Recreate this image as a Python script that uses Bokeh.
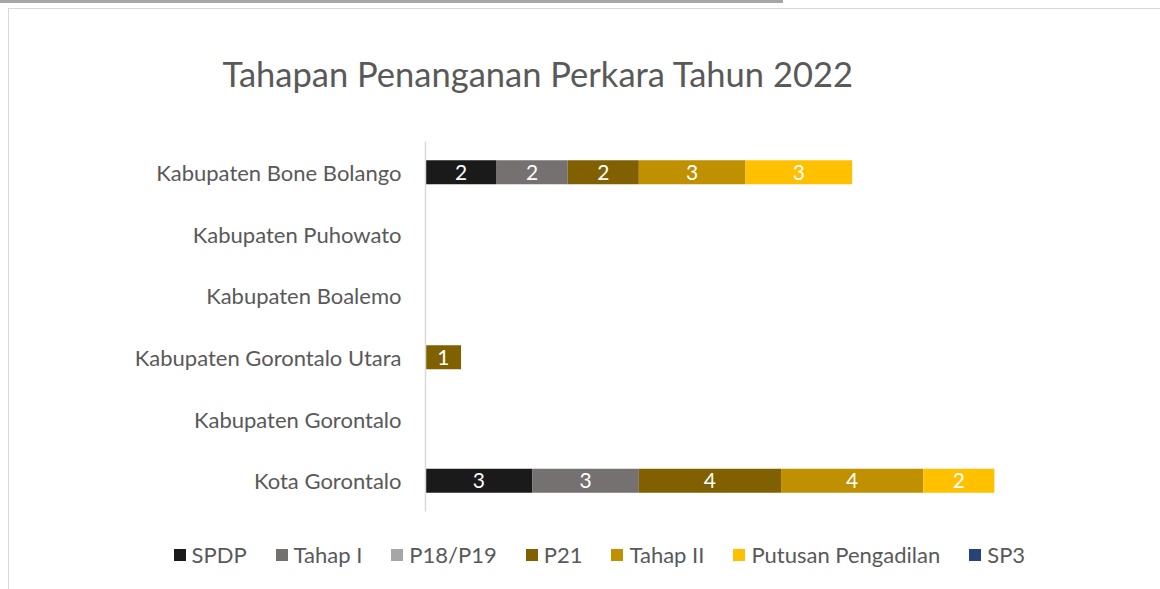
from bokeh.plotting import figure
from bokeh.models import ColumnDataSource, FactorRange, Legend, LegendItem, Range1d, Title
from bokeh.layouts import column
from bokeh.embed import file_html
from bokeh.resources import INLINE
from bokeh.core.properties import value

# categories listed top to bottom
categories = ["Kabupaten Bone Bolango", "Kabupaten Puhowato", "Kabupaten Boalemo",
              "Kabupaten Gorontalo Utara", "Kabupaten Gorontalo", "Kota Gorontalo"]
series_names = ["SPDP", "Tahap I", "P18/P19", "P21", "Tahap II", "Putusan Pengadilan", "SP3"]
spdp = [2, 0, 0, 0, 0, 3]
tahap_1 = [2, 0, 0, 0, 0, 3]
p18_p19 = [0, 0, 0, 0, 0, 0]
p21 = [2, 0, 0, 1, 0, 4]
tahap_2 = [3, 0, 0, 0, 0, 4]
putusan = [3, 0, 0, 0, 0, 2]
sp3 = [0, 0, 0, 0, 0, 0]
colors = ["#1a1a1a", "#767171", "#a6a6a6", "#806000", "#bf9000", "#ffc000", "#264478"]
title_text = "Tahapan Penanganan Perkara Tahun 2022"

FONT = "Lato"
TXT = "#595959"

all_series = [spdp, tahap_1, p18_p19, p21, tahap_2, putusan, sp3]
keys = ["s%d" % i for i in range(len(all_series))]
data = {"cat": categories}
for k, s in zip(keys, all_series):
    data[k] = s
src = ColumnDataSource(data)

bg = ("linear-gradient(#a6a6a6,#a6a6a6) 0px 0px / 783px 3px no-repeat, "
      "linear-gradient(#d9d9d9,#d9d9d9) 8px 8px / 1152px 1px no-repeat, "
      "linear-gradient(#d9d9d9,#d9d9d9) 8px 8px / 1px 581px no-repeat, #ffffff")

p = figure(width=1160, height=530, output_backend="svg", toolbar_location=None,
           y_range=FactorRange(*list(reversed(categories))), x_range=Range1d(0, 18),
           min_border_left=425, min_border_right=95, min_border_top=141, min_border_bottom=19)
p.background_fill_alpha = 0
p.border_fill_alpha = 0
p.outline_line_color = None
p.xaxis.visible = False
p.xgrid.visible = False
p.ygrid.visible = False

rends = p.hbar_stack(keys, y="cat", height=0.39, color=colors, line_color=None, source=src)

# value labels
lx, ly, lt = [], [], []
for ci, c in enumerate(categories):
    left = 0
    for s in all_series:
        v = s[ci]
        if v:
            lx.append(left + v / 2)
            ly.append(c)
            lt.append(str(v))
        left += v
p.text(x=lx, y=ly, text=lt, text_color="white", text_align="center", text_baseline="middle",
       text_font=value(FONT), text_font_size="21px")

yax = p.yaxis[0]
yax.axis_line_color = "#d9d9d9"
yax.axis_line_width = 1.5
yax.major_tick_line_color = None
yax.minor_tick_line_color = None
yax.major_label_text_font = FONT
yax.major_label_text_font_size = "22px"
yax.major_label_text_color = TXT
yax.major_label_standoff = 18

p.add_layout(Title(text=title_text, align="left", offset=-203, standoff=96,
                   text_font=FONT, text_font_size="34.5px", text_font_style="normal",
                   text_color=TXT), "above")

# legend strip
q = figure(width=1160, height=59, output_backend="svg", toolbar_location=None,
           x_range=Range1d(0, 1), y_range=Range1d(0, 1),
           min_border_left=0, min_border_right=0, min_border_top=0, min_border_bottom=0)
q.frame_align = False
q.axis.visible = False
q.grid.visible = False
q.outline_line_color = None
q.background_fill_alpha = 0
q.border_fill_alpha = 0
# legend proxies, kept outside the visible y range
dummies = [q.rect(x=[0.5], y=[-5], width=0.1, height=0.1, color=c, line_color=None) for c in colors]
items = [LegendItem(label=n, renderers=[r]) for n, r in zip(series_names, dummies)]
leg = Legend(items=items, orientation="horizontal", location=(171.5, 21),
             glyph_width=15, glyph_height=15, label_standoff=5, spacing=27,
             label_text_font=FONT, label_text_font_size="22px", label_text_color=TXT,
             border_line_color=None, background_fill_alpha=0, padding=0, margin=0)
q.add_layout(leg)

lay = column(p, q, spacing=0, styles={"background": bg})
open("out.html", "w").write(file_html(lay, INLINE))
